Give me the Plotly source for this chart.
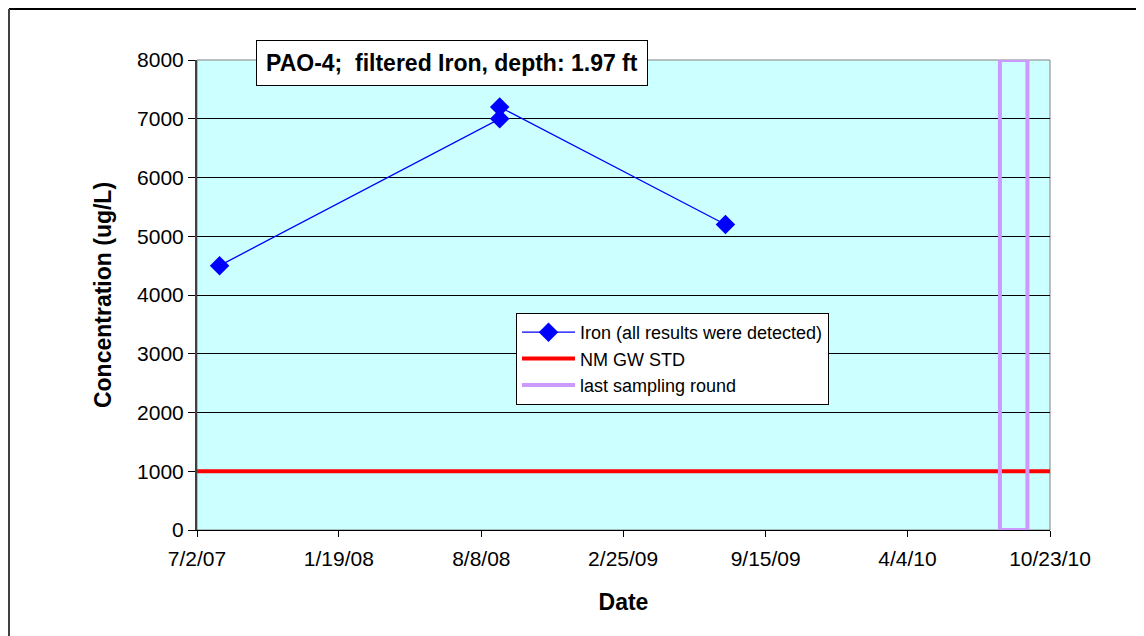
import plotly.graph_objects as go

# ── Data ───────────────────────────────────────────────────────────────────
sample_dates = ["2007-08-03", "2008-09-03", "2008-09-03", "2009-07-20"]
iron_ugl     = [4500, 7000, 7200, 5200]

std_dates    = ["2007-07-02", "2010-10-23"]
std_ugl      = [1000, 1000]

last_round   = ["2010-08-13", "2010-09-21"]   # left / right edge of box
last_range   = [0, 8000]

tick_dates   = ["2007-07-02", "2008-01-19", "2008-08-08", "2009-02-25",
                "2009-09-15", "2010-04-04", "2010-10-23"]
tick_labels  = ["7/2/07", "1/19/08", "8/8/08", "2/25/09",
                "9/15/09", "4/4/10", "10/23/10"]

# ── Geometry (pixels, page has an 8px body margin) ─────────────────────────
OFF = 8
W, H = 1144 - OFF, 636 - OFF
L, T = 197 - OFF, 60 - OFF
R, B = W - (1050 - OFF), H - (530 - OFF)
PW, PH = W - L - R, H - T - B


def px(x):
    # screen x -> paper
    return (x - OFF - L) / PW


def py(y):
    # screen y -> paper
    return (H - B - (y - OFF)) / PH


FONT = "Arial, Liberation Sans, sans-serif"
BG_PLOT = "#CCFFFF"
BLUE = "#0000FF"
RED = "#FF0000"
LAV = "#CC99FF"

fig = go.Figure()

fig.add_trace(go.Scatter(
    x=sample_dates, y=iron_ugl, mode="lines+markers",
    name="Iron (all results were detected)",
    line=dict(color=BLUE, width=1.3),
    marker=dict(symbol="diamond", size=15, color=BLUE),
))
fig.add_trace(go.Scatter(
    x=std_dates, y=std_ugl, mode="lines", name="NM GW STD",
    line=dict(color=RED, width=4),
))
fig.add_trace(go.Scatter(
    x=[last_round[0], last_round[0], last_round[1], last_round[1], last_round[0]],
    y=[last_range[0], last_range[1], last_range[1], last_range[0], last_range[0]],
    mode="lines", name="last sampling round",
    line=dict(color=LAV, width=4),
))

# plot frame: gray top/right
fig.add_shape(type="rect", xref="paper", yref="paper", x0=0, x1=1, y0=0, y1=1,
              line=dict(color="#808080", width=1), layer="below")
# outer chart border (top / left)
fig.add_shape(type="line", xref="paper", yref="paper",
              x0=px(OFF + 1), x1=px(1150), y0=py(OFF + 1), y1=py(OFF + 1),
              line=dict(color="#000000", width=2))
fig.add_shape(type="line", xref="paper", yref="paper",
              x0=px(OFF + 1), x1=px(OFF + 1), y0=py(OFF + 1), y1=py(640),
              line=dict(color="#404040", width=2))

# title box
fig.add_annotation(
    x=px(452), y=py(63.5), xref="paper", yref="paper",
    text="<b>PAO-4;\u00a0 filtered Iron, depth: 1.97 ft</b>",
    showarrow=False, font=dict(family=FONT, size=23, color="#000000"),
    bgcolor="#FFFFFF", bordercolor="#000000", borderwidth=1, borderpad=9,
    xanchor="center", yanchor="middle",
)

fig.update_layout(
    width=W, height=H,
    margin=dict(l=L, r=R, t=T, b=B),
    paper_bgcolor="#FFFFFF", plot_bgcolor=BG_PLOT,
    font=dict(family=FONT, color="#000000"),
    showlegend=True,
    legend=dict(
        x=px(516), y=py(313), xanchor="left", yanchor="top",
        bgcolor="#FFFFFF", bordercolor="#000000", borderwidth=1,
        font=dict(family=FONT, size=18, color="#000000"),
        itemwidth=53, tracegroupgap=0,
    ),
    xaxis=dict(
        type="date", range=[tick_dates[0], tick_dates[-1]],
        tickvals=tick_dates, ticktext=tick_labels,
        tickfont=dict(family=FONT, size=21),
        ticks="outside", ticklen=6, tickcolor="#000000",
        ticklabelstandoff=4,
        showline=True, linecolor="#000000", linewidth=1,
        showgrid=False, zeroline=False,
        title=dict(text="<b>Date</b>", font=dict(family=FONT, size=23), standoff=24),
    ),
    yaxis=dict(
        range=[0, 8000], dtick=1000, tick0=0,
        tickfont=dict(family=FONT, size=21),
        ticks="outside", ticklen=7, tickcolor="#000000",
        showline=True, linecolor="#404040", linewidth=2,
        showgrid=True, gridcolor="#000000", gridwidth=1, zeroline=False,
        title=dict(text="<b>Concentration (ug/L)</b>", font=dict(family=FONT, size=23),
                   standoff=19),
    ),
)

fig.write_html("out.html")
